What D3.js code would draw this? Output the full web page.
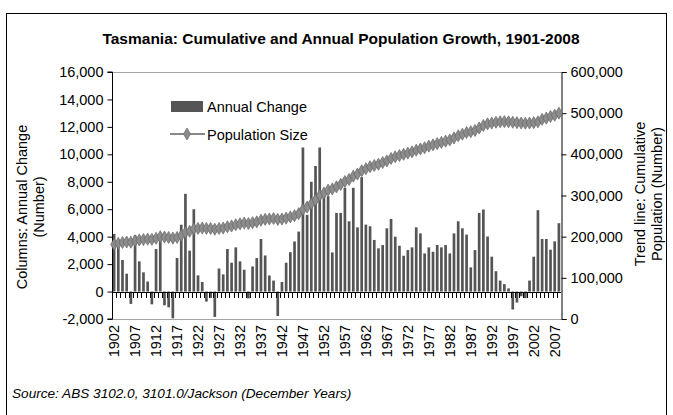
<!DOCTYPE html>
<html><head><meta charset="utf-8">
<script src="https://cdn.jsdelivr.net/npm/d3@7"></script>
<style>
html,body{margin:0;padding:0;background:#fff;}
svg{display:block;font-family:"Liberation Sans",Arial,sans-serif;}
</style></head>
<body>
<script>
// ---- DATA ----
const years = d3.range(1902, 2009); // 1902..2008 categories
const annualChange = [
 4200,3250,2300,1300,-900,4100,2200,1400,730,-930,
 3100,3800,-1000,-1150,-1950,2450,4870,7120,2980,6000,
 1180,700,-730,-460,-1850,1680,1250,3100,2100,3220,
 2200,1590,-500,1830,2440,3830,2630,1170,800,-1780,
 700,2100,2870,3650,4370,10500,5590,8000,9150,10500,
 6950,6950,2850,5730,5730,7560,5120,7560,4680,8340,
 4880,4760,3760,3150,3390,4610,5290,4000,3340,2610,
 3020,3220,4680,4240,2780,3220,2900,3390,3220,3390,
 2780,4240,5120,4610,4150,1760,3020,5730,5980,4010,
 2540,1480,800,540,230,-1310,-800,-340,-480,800,
 2540,5930,3830,3830,3050,3660,4980
];
const population = [
 181000,184000,186000,187000,186500,190000,192000,193000,194000,193500,
 196000,200000,199000,198000,196500,198000,203000,210000,213000,219000,
 220000,221000,220000,220000,218000,220000,221000,224000,226000,229000,
 231000,233000,232000,234000,236000,240000,242000,243000,244000,242000,
 243000,245000,248000,251000,256000,266000,272000,280000,289000,300000,
 306000,313000,316000,321000,327000,334000,339000,347000,352000,360000,
 365000,370000,373000,376000,380000,384000,390000,394000,397000,400000,
 403000,406000,410000,413000,416000,420000,423000,426000,429000,432000,
 435000,440000,445000,449000,453000,455000,458000,464000,470000,474000,
 476000,478000,479000,479500,479000,478000,477000,476000,475500,476000,
 477000,479000,485000,488000,492000,495000,500000
];
const leftTicks = [-2000,0,2000,4000,6000,8000,10000,12000,14000,16000];
const rightTicks = [0,100000,200000,300000,400000,500000,600000];
const labelYears = d3.range(1902, 2009, 5);
const title = "Tasmania: Cumulative and Annual Population Growth, 1901-2008";
const source = "Source: ABS 3102.0, 3101.0/Jackson (December Years)";

// ---- LAYOUT ----
const W = 673, H = 415;
const P = {l:112, r:561, t:72, b:319};
const FS = 14.5;
const fmt = (v)=>d3.format(",")(v).replace("\u2212","-");
const svg = d3.select("body").append("svg").attr("width",W).attr("height",H);

svg.append("rect").attr("x",6.5).attr("y",13.5).attr("width",660).attr("height",H)
  .attr("fill","#fff").attr("stroke","#000").attr("stroke-width",1);

svg.append("text").attr("x",341).attr("y",44).attr("text-anchor","middle")
  .attr("font-size",15.5).attr("font-weight","bold").text(title);

const x = d3.scaleBand().domain(years).range([P.l,P.r]).paddingInner(0.36).paddingOuter(0.18);
const yL = d3.scaleLinear().domain([-2000,16000]).range([P.b,P.t]);
const yR = d3.scaleLinear().domain([0,600000]).range([P.b,P.t]);

// plot border top/bottom
svg.append("line").attr("x1",P.l).attr("x2",P.r).attr("y1",P.t+0.5).attr("y2",P.t+0.5).attr("stroke","#a6a6a6");
svg.append("line").attr("x1",P.l).attr("x2",P.r).attr("y1",P.b+0.5).attr("y2",P.b+0.5).attr("stroke","#a6a6a6");

// bars
svg.append("g").selectAll("rect").data(years).join("rect")
  .attr("x",(d)=>x(d)).attr("width",x.bandwidth())
  .attr("y",(d,i)=>yL(Math.max(0,annualChange[i])))
  .attr("height",(d,i)=>Math.abs(yL(annualChange[i])-yL(0)))
  .attr("fill","#555");

// category axis at zero with ticks at boundaries
const step = x.step();
const gx = svg.append("g");
gx.append("line").attr("x1",P.l).attr("x2",P.r).attr("y1",Math.round(yL(0))+0.5).attr("y2",Math.round(yL(0))+0.5).attr("stroke","#000");
gx.selectAll("line.t").data(years).join("line").attr("class","t")
  .attr("x1",d=>Math.round(x(d)-step*x.paddingInner()/2)+0.5)
  .attr("x2",d=>Math.round(x(d)-step*x.paddingInner()/2)+0.5)
  .attr("y1",Math.round(yL(0))).attr("y2",Math.round(yL(0))+6).attr("stroke","#000");

// year labels
svg.append("g").selectAll("text").data(labelYears).join("text")
  .attr("transform",d=>`translate(${x(d)+x.bandwidth()/2+5},325) rotate(-90)`)
  .attr("text-anchor","end").attr("font-size",FS).attr("fill","#000").text(d=>d);

// left axis
const axL = d3.axisLeft(yL).tickValues(leftTicks).tickSize(5).tickPadding(4).tickFormat(fmt);
const gL = svg.append("g").attr("transform",`translate(${P.l+0.5},0)`).call(axL);
gL.select(".domain").attr("d",`M-5,${yL(-2000)}H0V${yL(16000)}H-5`);
gL.selectAll("text").attr("font-size",FS).attr("font-family","Liberation Sans, Arial");

// right axis
const axR = d3.axisRight(yR).tickValues(rightTicks).tickSize(5).tickPadding(4).tickFormat(fmt);
const gR = svg.append("g").attr("transform",`translate(${P.r+0.5},0)`).call(axR);
gR.selectAll("text").attr("font-size",FS).attr("font-family","Liberation Sans, Arial");

// population line
const cx = (d)=>x(d)+x.bandwidth()/2;
const line = d3.line().x((d,i)=>cx(years[i])).y(d=>yR(d));
svg.append("path").datum(population).attr("d",line).attr("fill","none").attr("stroke","#888").attr("stroke-width",2);
const diamond = d3.symbol().type(d3.symbolDiamond).size(42);
svg.append("g").selectAll("path").data(population).join("path")
  .attr("transform",(d,i)=>`translate(${cx(years[i])},${yR(d)})`)
  .attr("d",diamond).attr("fill","#8c8c8c").attr("stroke","#666").attr("stroke-width",0.7);

// legend
svg.append("rect").attr("x",171).attr("y",101).attr("width",32).attr("height",11).attr("fill","#555");
svg.append("text").attr("x",207).attr("y",112).attr("font-size",FS).text("Annual Change");
svg.append("line").attr("x1",170).attr("x2",205).attr("y1",134).attr("y2",134).attr("stroke","#888").attr("stroke-width",2);
svg.append("path").attr("transform","translate(187,134)").attr("d",diamond).attr("fill","#8c8c8c").attr("stroke","#666").attr("stroke-width",0.7);
svg.append("text").attr("x",207).attr("y",140).attr("font-size",FS).text("Population Size");

// axis titles
const lt = svg.append("text").attr("transform","translate(27,207) rotate(-90)").attr("text-anchor","middle").attr("font-size",FS);
lt.append("tspan").attr("x",0).attr("dy",0).text("Columns: Annual Change");
lt.append("tspan").attr("x",0).attr("dy",17).text("(Number)");
const rt = svg.append("text").attr("transform","translate(645,194) rotate(-90)").attr("text-anchor","middle").attr("font-size",FS);
rt.append("tspan").attr("x",0).attr("dy",0).text("Trend line: Cumulative");
rt.append("tspan").attr("x",0).attr("dy",17).text("Population (Number)");

// source
svg.append("text").attr("x",12).attr("y",398).attr("font-size",13.6).attr("font-style","italic").text(source);
</script>
</body></html>
